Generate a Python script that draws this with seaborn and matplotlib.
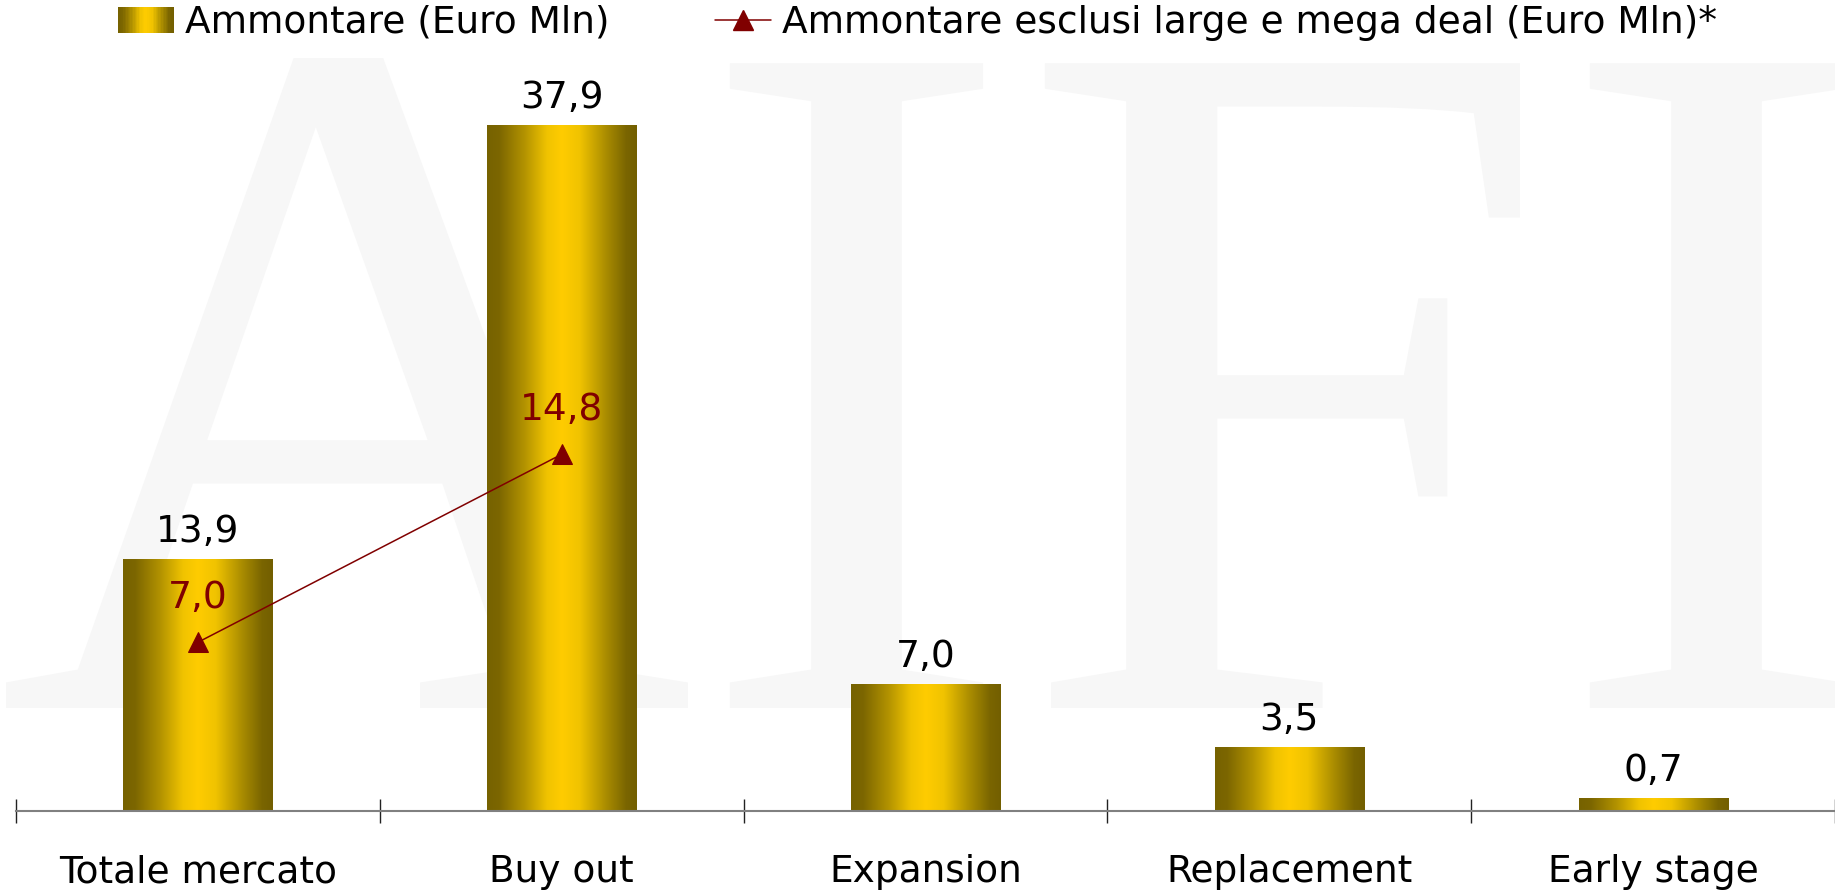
import numpy as np
import matplotlib
matplotlib.use('Agg')
import matplotlib.pyplot as plt
import seaborn as sns
from matplotlib.colors import LinearSegmentedColormap
from matplotlib.lines import Line2D
from matplotlib.patches import Patch, Rectangle, PathPatch
from matplotlib.legend_handler import HandlerBase
from matplotlib.textpath import TextPath
from matplotlib.font_manager import FontProperties
from matplotlib.transforms import Affine2D

# ---- data ----
categories = ['Totale mercato', 'Buy out', 'Expansion', 'Replacement', 'Early stage']
amounts = [13.9, 37.9, 7.0, 3.5, 0.7]
line_categories = ['Totale mercato', 'Buy out']
amounts_excl = [7.0, 14.8]
bar_label_text = ['13,9', '37,9', '7,0', '3,5', '0,7']
line_label_text = ['7,0', '14,8']
legend_labels = ['Ammontare (Euro Mln)', 'Ammontare esclusi large e mega deal (Euro Mln)*']

sns.set_theme(style='white')
plt.rcParams['font.family'] = ['DejaVu Sans']
plt.rcParams['text.color'] = 'black'

dark_red = '#800000'
gold = LinearSegmentedColormap.from_list(
    'gold', [(0, '#766200'), (0.08, '#7c6600'), (0.25, '#b39300'), (0.4, '#f0c300'),
             (0.5, '#ffcc00'), (0.62, '#f0c300'), (0.8, '#a88b00'),
             (0.93, '#7a6500'), (1, '#735f00')])
fs = 27


class GradHandler(HandlerBase):
    # legend handle: gold gradient square
    def create_artists(self, legend, orig_handle, xdescent, ydescent,
                       width, height, fontsize, trans):
        n = 40
        arts = []
        for i, c in enumerate(np.linspace(0, 1, n)):
            arts.append(Rectangle((-xdescent + width * i / n, -ydescent),
                                  width / n * 1.05, height, facecolor=gold(c),
                                  edgecolor='none', transform=trans))
        return arts


fig = plt.figure(figsize=(18.35, 8.91), dpi=100)

# ---- watermark ----
bg = fig.add_axes([0, 0, 1, 1], zorder=0)
bg.set_xlim(0, 1835)
bg.set_ylim(0, 891)
bg.axis('off')
tp = TextPath((0, 0), 'AIFI', size=100, prop=FontProperties(family='Liberation Serif'))
ext = tp.get_extents()
tr = Affine2D().translate(-ext.x0, -ext.y0).scale(1837 / ext.width, 650 / ext.height).translate(6, 183)
bg.add_patch(PathPatch(tr.transform_path(tp), facecolor='#f7f7f7', edgecolor='none'))

# ---- bars ----
ax = fig.add_axes([16 / 1835, 80 / 891, 1 - 16 / 1835, 723 / 891], zorder=1)
ax.patch.set_alpha(0)
sns.barplot(x=categories, y=amounts, ax=ax, width=0.41, color='#ffcc00')
grad = np.linspace(0, 1, 256).reshape(1, -1)
for p in ax.patches:
    x0, w, h = p.get_x(), p.get_width(), p.get_height()
    ax.imshow(grad, extent=[x0, x0 + w, 0, h], aspect='auto', cmap=gold, zorder=2)
ax.bar_label(ax.containers[0], labels=bar_label_text, padding=7, fontsize=fs, color='black')

ax.set_ylim(0, 40)
ax.set_yticks([])
ax.set_ylabel('')
sns.despine(ax=ax, left=True)
ax.spines['bottom'].set_color('#808080')
ax.spines['bottom'].set_linewidth(1.5)
ax.set_xticks(np.arange(-0.5, 5, 1), minor=True)
ax.tick_params(axis='x', which='major', length=0, pad=31, labelsize=fs, labelcolor='black')
ax.tick_params(axis='x', which='minor', bottom=True, length=17, width=1,
               direction='inout', color='#222222')

# ---- line (secondary axis) ----
ax2 = ax.twinx()
sns.lineplot(x=line_categories, y=amounts_excl, ax=ax2, color=dark_red, marker='^',
             markersize=15, markeredgecolor=dark_red, linewidth=1.1)
ax2.set_ylim(0, 30)
ax2.axis('off')
for (x, y), t in zip(ax2.lines[0].get_xydata(), line_label_text):
    ax2.annotate(t, (x, y), xytext=(0, 32), textcoords='offset points',
                 ha='center', va='center', color=dark_red, fontsize=fs)
ax.set_xlim(-0.5, 4.5)

# ---- legend ----
handles = [Patch(facecolor='#ffcc00'),
           Line2D([0], [0], color=dark_red, marker='^', markersize=15, linewidth=1.1)]
fig.legend(handles, legend_labels, loc='center', bbox_to_anchor=(0.5, 1 - 23 / 891),
           ncol=2, frameon=False, fontsize=fs, handlelength=1.5, handletextpad=0.3,
           columnspacing=2.8, handler_map={Patch: GradHandler()})

fig.savefig('out.png', dpi=100)
